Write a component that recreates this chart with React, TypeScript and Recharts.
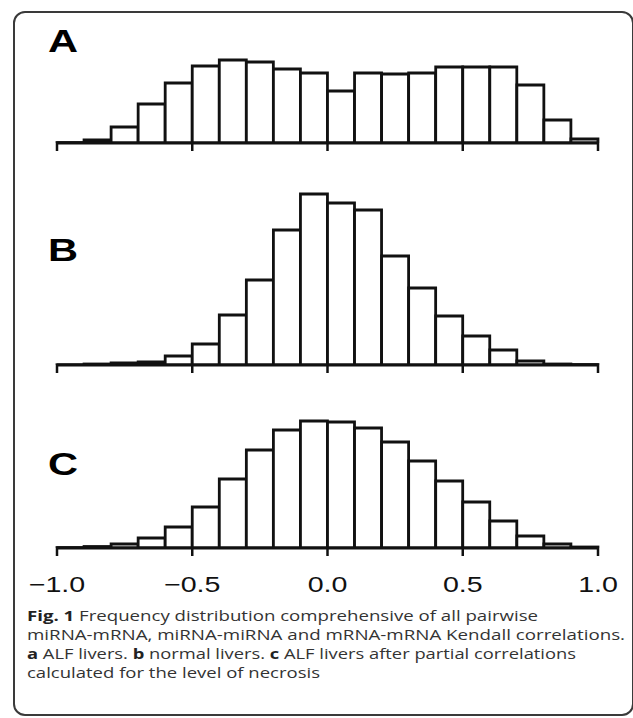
import React from "react";
import { BarChart, Bar, XAxis, YAxis } from "recharts";

// bins of width 0.1 from -1.0 to 1.0 (centres)
const binCenters = [-0.95, -0.85, -0.75, -0.65, -0.55, -0.45, -0.35, -0.25, -0.15, -0.05,
  0.05, 0.15, 0.25, 0.35, 0.45, 0.55, 0.65, 0.75, 0.85, 0.95];

// frequencies (same arbitrary unit in all panels)
const alfLivers = [0.5, 3, 16, 39, 60, 77, 83, 81, 74, 70, 52, 70, 69, 70, 76, 76, 76, 58, 23, 4];
const normalLivers = [0.3, 1, 2, 3, 9, 21, 50, 85, 135, 171, 162, 155, 109, 77, 49, 29, 15, 4, 1, 0.5];
const alfPartial = [0.5, 1.5, 4, 10, 21, 41, 69, 98, 118, 127, 126, 120, 106, 87, 67, 46, 27, 12, 4, 1];

const axisTicks = [-1, -0.5, 0, 0.5, 1];
const tickLabels = ["\u22121.0", "\u22120.5", "0.0", "0.5", "1.0"];
const panelLetters = ["A", "B", "C"];

const INK = "#111";

function AxisTick(props: any) {
  const { x, y, payload, show } = props;
  if (!show) return <g />;
  const i = axisTicks.indexOf(payload.value);
  return (
    <g transform={`translate(${x},${y + 34}) scale(1.3,1)`}>
      <text x={0} y={0} textAnchor="middle" fontSize={22} fill={INK}
        fontFamily="'Liberation Sans', Arial, sans-serif">{tickLabels[i]}</text>
    </g>
  );
}

function Panel({ values, top, plotH, showLabels }: { values: number[]; top: number; plotH: number; showLabels?: boolean }) {
  const data = binCenters.map((c, i) => ({ bin: String(c), center: c, v: values[i] }));
  const axisH = showLabels ? 50 : 30;
  return (
    <div style={{ position: "absolute", left: 0, top }}>
      <BarChart width={633} height={5 + plotH + axisH} data={data}
        margin={{ top: 5, right: 35, left: 57, bottom: 0 }} barCategoryGap={0} barGap={0}>
        <XAxis xAxisId="bins" dataKey="bin" type="category" hide height={0} />
        <XAxis xAxisId="num" dataKey="center" type="number" domain={[-1, 1]} ticks={axisTicks}
          allowDataOverflow height={axisH} tickSize={8}
          axisLine={{ stroke: INK, strokeWidth: 3 }} tickLine={{ stroke: INK, strokeWidth: 2.5 }}
          tick={<AxisTick show={showLabels} />} interval={0} />
        <YAxis hide domain={[0, plotH]} allowDataOverflow />
        <Bar xAxisId="bins" dataKey="v" fill="#fff" stroke={INK} strokeWidth={2.8} isAnimationActive={false} />
      </BarChart>
    </div>
  );
}

export default function App() {
  const letterPos = [52, 261, 475];
  return (
    <div style={{ position: "absolute", left: 0, top: 0, width: 633, height: 718, background: "#fff", overflow: "hidden" }}>
      <div style={{ position: "absolute", left: 13, top: 11, width: 621, height: 705, boxSizing: "border-box",
        border: "2px solid #3a3a3a", borderRadius: 12 }} />
      <Panel values={alfLivers} top={48} plotH={90} />
      <Panel values={normalLivers} top={180} plotH={180} />
      <Panel values={alfPartial} top={408} plotH={135} showLabels />
      <svg width={633} height={718} style={{ position: "absolute", left: 0, top: 0, pointerEvents: "none" }}>
        {panelLetters.map((l, i) => (
          <g key={l} transform={`translate(48,${letterPos[i]}) scale(1.3,1)`}>
            <text x={0} y={0} fontSize={32} fontWeight="bold" fill="#000"
              fontFamily="'Liberation Sans', Arial, sans-serif">{l}</text>
          </g>
        ))}
        <g fontFamily="'Open Sans', 'Noto Sans', sans-serif" fontSize={14} fill="#333" style={{ whiteSpace: "pre" }}>
          <text x={27} y={621} textLength={511} lengthAdjust="spacingAndGlyphs">
            <tspan fontWeight="bold" fill="#222">Fig. 1</tspan> Frequency distribution comprehensive of all pairwise
          </text>
          <text x={27} y={640} textLength={598} lengthAdjust="spacingAndGlyphs">
            miRNA-mRNA, miRNA-miRNA and mRNA-mRNA Kendall correlations.
          </text>
          <text x={27} y={659} textLength={549} lengthAdjust="spacingAndGlyphs">
            <tspan fontWeight="bold" fill="#222">a</tspan> ALF livers. <tspan fontWeight="bold" fill="#222">b</tspan> normal livers. <tspan fontWeight="bold" fill="#222">c</tspan> ALF livers after partial correlations
          </text>
          <text x={27} y={678} textLength={293} lengthAdjust="spacingAndGlyphs">
            calculated for the level of necrosis
          </text>
        </g>
      </svg>
    </div>
  );
}
